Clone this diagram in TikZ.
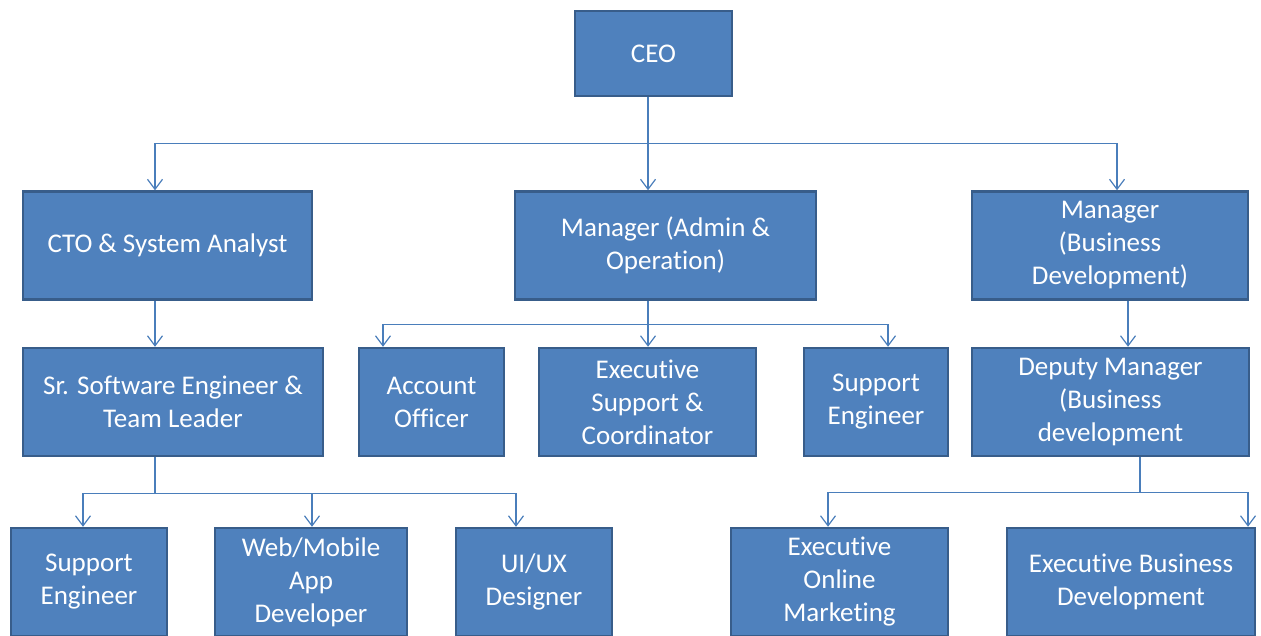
\documentclass[tikz,border=0pt]{standalone}
\usepackage{fontspec}
\setmainfont[Ligatures={NoCommon,NoContextual}]{Carlito}
\usetikzlibrary{arrows.meta,positioning}
\definecolor{boxfill}{HTML}{4F81BD}
\definecolor{boxline}{HTML}{385D8A}
\definecolor{linkline}{HTML}{4A7EBB}

\begin{document}
\begin{tikzpicture}[
    x=1pt, y=-1pt,
    post/.style={rectangle, draw=boxline, fill=boxfill, line width=2.5pt, text=white, align=center, inner sep=0pt, minimum height=108pt, font=\fontsize{27}{33}\selectfont},
    link/.style={draw=linkline, line width=1.2pt},
    arrow/.style={link, -{Straight Barb[length=10pt,width=15pt,line width=1.2pt]}}
]
    \useasboundingbox (0,0) rectangle (1261,635);

    \node[post, minimum width=157pt, minimum height=85pt] (ceo) at (653.5,53.5) {CEO};

    \node[post, minimum width=289pt] (cto) at (167.5,245.5) {CTO \& System Analyst};
    \node[post, minimum width=301pt] (admin) at (665.5,245.5) {Manager (Admin \&\\Operation)};
    \node[post, minimum width=276pt] (bizmgr) at (1110,245.5) {Manager\\(Business\\Development)};

    \node[post, minimum width=300pt] (senior) at (173,402) {Sr. Software Engineer \&\\Team Leader};
    \node[post, minimum width=145pt] (account) at (431.5,402) {Account\\Officer};
    \node[post, minimum width=217pt] (execsupport) at (647.5,402) {Executive\\Support \&\\Coordinator};
    \node[post, minimum width=144pt] (support) at (876,402) {Support\\Engineer};
    \node[post, minimum width=277pt] (deputy) at (1110.5,402) {Deputy Manager\\(Business\\development};

    \node[post, minimum width=156pt] (supportdev) at (89,582) {Support\\Engineer};
    \node[post, minimum width=192pt] (appdev) at (311,582) {Web/Mobile\\App\\Developer};
    \node[post, minimum width=156pt] (designer) at (534,582) {UI/UX\\Designer};
    \node[post, minimum width=217pt] (marketing) at (839.5,582) {Executive\\Online\\Marketing};
    \node[post, minimum width=248pt] (execbiz) at (1131,582) {Executive Business\\Development};

    \draw[link] ([xshift=-5.5pt]ceo.south) -- ++(0,46) coordinate (ceobus);
    \draw[arrow] (ceobus) -| ([xshift=-12.5pt]cto.north);
    \draw[arrow] (ceobus) -- ([xshift=-17.5pt]admin.north);
    \draw[arrow] (ceobus) -| ([xshift=7pt]bizmgr.north);

    \draw[arrow] ([xshift=-12.5pt]cto.south) -- ([xshift=-18pt]senior.north);

    \draw[link] ([xshift=-17.5pt]admin.south) -- ++(0,24) coordinate (adminbus);
    \draw[arrow] (adminbus) -| ([xshift=-48.5pt]account.north);
    \draw[arrow] (adminbus) -- ([xshift=0.5pt]execsupport.north);
    \draw[arrow] (adminbus) -| ([xshift=12pt]support.north);

    \draw[arrow] ([xshift=18pt]bizmgr.south) -- ([xshift=17.5pt]deputy.north);

    \draw[link] ([xshift=-18pt]senior.south) -- ++(0,36) coordinate (seniorbus);
    \draw[arrow] (seniorbus) -| ([xshift=-6pt]supportdev.north);
    \draw[arrow] (seniorbus) -| ([xshift=1pt]appdev.north);
    \draw[arrow] (seniorbus) -| ([xshift=-18pt]designer.north);

    \draw[link] ([xshift=29.5pt]deputy.south) -- ++(0,35) coordinate (deputybus);
    \draw[arrow] (deputybus) -| ([xshift=-11.5pt]marketing.north);
    \draw[arrow] (deputybus) -| ([xshift=117pt]execbiz.north);
\end{tikzpicture}
\end{document}
